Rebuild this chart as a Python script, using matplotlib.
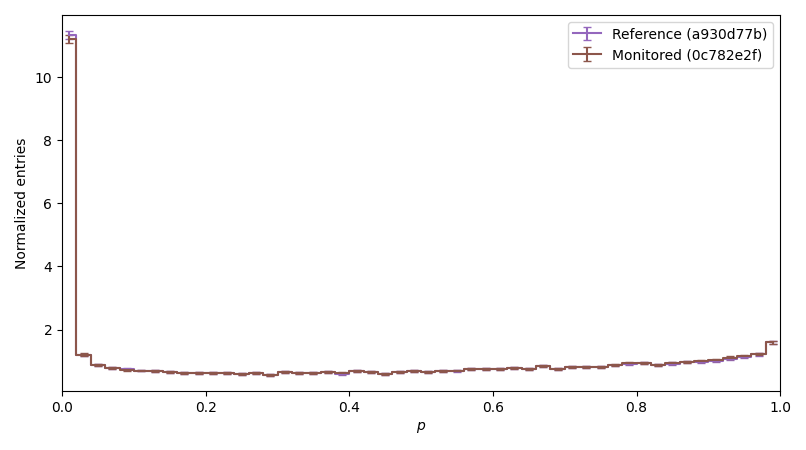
import numpy as np
import matplotlib
matplotlib.use("Agg")
import matplotlib.pyplot as plt

# 50 bins of p in [0, 1]
bin_edges = np.linspace(0.0, 1.0, 51)

ref_vals = [11.32, 1.19, 0.88, 0.78, 0.74, 0.70, 0.69, 0.65, 0.62, 0.62,
            0.62, 0.62, 0.59, 0.63, 0.56, 0.66, 0.62, 0.62, 0.66, 0.60,
            0.69, 0.66, 0.58, 0.66, 0.69, 0.65, 0.69, 0.69, 0.76, 0.76,
            0.76, 0.78, 0.76, 0.84, 0.76, 0.80, 0.80, 0.81, 0.86, 0.91,
            0.93, 0.87, 0.92, 0.96, 0.98, 1.01, 1.08, 1.13, 1.21, 1.60]
mon_vals = [11.20, 1.20, 0.88, 0.77, 0.73, 0.70, 0.68, 0.64, 0.62, 0.62,
            0.62, 0.63, 0.59, 0.63, 0.56, 0.66, 0.63, 0.62, 0.66, 0.62,
            0.69, 0.66, 0.59, 0.66, 0.69, 0.66, 0.69, 0.70, 0.76, 0.76,
            0.76, 0.79, 0.76, 0.84, 0.76, 0.80, 0.80, 0.82, 0.87, 0.93,
            0.93, 0.87, 0.93, 0.96, 1.00, 1.03, 1.11, 1.15, 1.22, 1.60]
ref_errs = [0.13, 0.04, 0.035, 0.03, 0.03, 0.03, 0.03, 0.03, 0.03, 0.03,
            0.03, 0.03, 0.03, 0.03, 0.03, 0.03, 0.03, 0.03, 0.03, 0.03,
            0.03, 0.03, 0.03, 0.03, 0.03, 0.03, 0.03, 0.03, 0.03, 0.03,
            0.03, 0.03, 0.03, 0.03, 0.03, 0.03, 0.03, 0.03, 0.03, 0.035,
            0.035, 0.03, 0.035, 0.035, 0.035, 0.035, 0.035, 0.035, 0.04, 0.045]
mon_errs = [0.13, 0.04, 0.035, 0.03, 0.03, 0.03, 0.03, 0.03, 0.03, 0.03,
            0.03, 0.03, 0.03, 0.03, 0.03, 0.03, 0.03, 0.03, 0.03, 0.03,
            0.03, 0.03, 0.03, 0.03, 0.03, 0.03, 0.03, 0.03, 0.03, 0.03,
            0.03, 0.03, 0.03, 0.03, 0.03, 0.03, 0.03, 0.03, 0.03, 0.035,
            0.035, 0.03, 0.035, 0.035, 0.035, 0.035, 0.035, 0.035, 0.04, 0.045]

centers = 0.5 * (bin_edges[:-1] + bin_edges[1:])

fig = plt.figure(figsize=(8.06, 4.5), dpi=100)
ax = fig.add_axes([0.077, 0.131, 0.891, 0.836])

ax.errorbar(centers, ref_vals, yerr=ref_errs, drawstyle="steps-mid",
            color="tab:purple", capsize=3, label="Reference (a930d77b)")
ax.errorbar(centers, mon_vals, yerr=mon_errs, drawstyle="steps-mid",
            color="tab:brown", capsize=3, label="Monitored (0c782e2f)")

ax.set_xlim(0, 1)
ax.set_ylim(0.05, 11.97)
ax.set_xlabel("$p$")
ax.set_ylabel("Normalized entries")
ax.legend(loc="upper right")

fig.savefig("out.png", dpi=100)
